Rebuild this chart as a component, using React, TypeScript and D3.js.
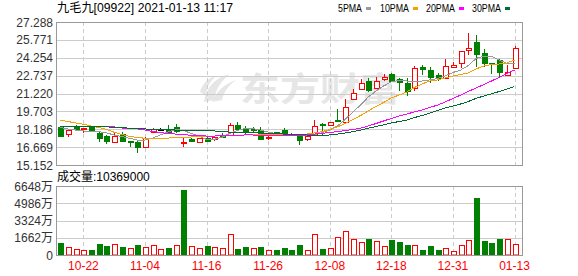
import React from 'react';
import * as d3 from 'd3';

const dates = [
  '10-19','10-20','10-21','10-22','10-23','10-27','10-28','10-29','10-30','11-02',
  '11-03','11-04','11-05','11-06','11-09','11-10','11-11','11-12','11-13','11-16',
  '11-17','11-18','11-19','11-20','11-23','11-24','11-25','11-26','11-27','11-30',
  '12-01','12-02','12-03','12-04','12-07','12-08','12-09','12-10','12-11','12-14',
  '12-15','12-16','12-17','12-18','12-21','12-22','12-23','12-24','12-28','12-29',
  '12-30','12-31','01-04','01-05','01-06','01-07','01-08','01-11','01-12','01-13'
];

const openP = [
  18.40,17.76,18.40,18.18,18.40,17.89,17.64,17.08,17.78,17.15,
  17.13,16.65,17.93,18.21,18.21,18.40,17.08,17.36,17.13,17.42,
  17.36,17.72,17.70,18.52,18.27,18.23,18.12,17.50,17.95,18.12,
  17.80,17.64,17.38,17.78,18.63,18.52,18.95,18.83,20.73,21.58,
  22.31,21.66,22.48,22.87,22.43,22.14,21.66,23.47,23.21,22.79,
  22.51,23.49,23.85,24.87,25.59,24.63,23.81,24.06,22.83,23.38
];
const highP = [
  18.46,18.14,18.55,18.29,18.46,17.95,17.70,17.84,17.98,17.15,
  17.19,17.50,18.29,18.29,18.55,18.59,17.47,17.47,17.45,17.50,
  17.53,17.84,18.69,18.83,18.46,18.40,18.35,17.84,17.98,18.27,
  17.84,17.70,17.64,18.97,18.69,18.83,19.88,20.73,21.58,22.43,
  22.51,22.60,22.87,22.93,22.51,22.51,23.57,23.60,23.44,22.96,
  24.16,23.92,24.85,26.33,26.22,24.97,23.83,24.16,23.60,25.23
];
const lowP = [
  17.55,17.55,18.17,17.84,17.98,17.13,16.93,17.06,17.13,16.65,
  16.20,16.63,17.90,18.16,17.90,17.87,16.70,17.08,17.10,17.11,
  17.21,17.50,17.68,18.12,17.70,17.98,17.27,17.27,17.80,17.70,
  17.68,16.89,17.15,17.76,17.70,18.50,18.83,18.80,20.70,21.55,
  21.37,21.60,22.26,22.22,21.46,21.01,21.46,22.79,22.09,22.31,
  22.48,23.36,23.36,24.49,23.43,23.49,22.87,22.65,22.80,23.33
];
const closeP = [
  17.64,18.12,18.21,18.27,18.06,17.42,17.21,17.64,17.21,17.13,
  16.65,17.42,18.21,18.21,17.95,18.06,17.11,17.19,17.42,17.19,
  17.50,17.55,18.52,18.23,17.93,18.12,17.33,17.55,17.84,17.84,
  17.72,17.27,17.61,18.46,18.55,18.80,18.89,20.05,21.29,22.09,
  21.52,22.31,22.65,22.28,22.22,21.46,23.41,23.30,22.58,22.51,
  23.53,23.64,24.83,25.08,24.55,23.78,23.70,23.07,23.07,25.08
];

const ma5 = [
  18.33,18.21,18.12,18.04,18.01,17.98,17.87,17.70,17.57,17.42,
  17.27,17.27,17.44,17.70,17.95,18.16,18.08,17.83,17.61,17.32,
  17.33,17.50,17.83,18.08,18.25,18.25,18.12,17.95,17.83,17.74,
  17.66,17.61,17.66,17.74,17.89,18.12,18.46,19.01,19.65,20.24,
  20.92,21.43,21.86,22.20,22.32,22.28,22.22,22.28,22.37,22.49,
  22.71,23.00,23.21,23.60,24.19,24.40,24.40,24.06,23.78,23.78
];
const ma10 = [
  18.97,18.84,18.72,18.61,18.46,18.33,18.18,17.93,17.74,17.57,
  17.49,17.42,17.42,17.44,17.44,17.47,17.49,17.53,17.55,17.57,
  17.61,17.66,17.67,17.67,17.70,17.70,17.70,17.70,17.70,17.70,
  17.72,17.76,17.78,17.87,17.98,18.16,18.38,18.67,19.01,19.35,
  19.74,20.12,20.46,20.84,21.09,21.35,21.73,22.03,22.28,22.37,
  22.54,22.71,22.83,22.96,23.30,23.55,23.68,23.72,23.81,24.06
];
const ma20 = [
  18.46,18.46,18.46,18.46,18.46,18.46,18.46,18.38,18.29,18.25,
  18.21,18.12,17.99,17.89,17.84,17.78,17.74,17.67,17.64,17.61,
  17.61,17.64,17.66,17.67,17.70,17.70,17.67,17.66,17.66,17.66,
  17.66,17.66,17.70,17.78,17.84,17.91,17.98,18.08,18.16,18.27,
  18.46,18.67,18.89,19.10,19.31,19.48,19.65,19.82,20.03,20.24,
  20.50,20.80,21.09,21.39,21.69,21.98,22.28,22.58,22.92,23.21
];
const ma30 = [
  18.39,18.39,18.39,18.39,18.39,18.39,18.39,18.35,18.33,18.27,
  18.25,18.21,18.18,18.16,18.15,18.12,18.12,18.12,18.12,18.10,
  18.04,17.98,17.95,17.89,17.89,17.87,17.87,17.84,17.81,17.78,
  17.78,17.76,17.70,17.66,17.66,17.70,17.78,17.87,17.98,18.12,
  18.27,18.42,18.55,18.72,18.84,18.97,19.18,19.35,19.56,19.78,
  19.99,20.16,20.33,20.54,20.80,21.01,21.18,21.39,21.60,21.81
];

// volume in 万 shares
const volume = [
  1156,742,549,453,482,1031,867,1031,771,646,
  963,771,935,578,674,963,6291,838,674,867,
  742,674,1994,578,771,674,771,482,482,674,
  500,963,482,1994,578,646,1705,2283,1513,1253,
  1542,1349,838,1445,1253,963,935,482,867,482,
  646,357,935,1445,5492,1349,1156,1542,1542,1037
];
// 1 = up day (red hollow), 0 = down day (green)
const volumeUp = [
  0,1,1,1,0,0,0,1,0,1,
  0,1,1,1,0,1,0,1,1,0,
  1,1,1,0,0,1,0,1,0,0,
  0,0,1,1,0,1,1,1,1,1,
  0,1,1,0,0,0,1,0,0,0,
  1,1,1,1,0,0,0,0,1,1
];

const priceTicks = [27.288, 25.771, 24.254, 22.737, 21.220, 19.703, 18.186, 16.669, 15.152];
const volumeTicks = [6648, 4986, 3324, 1662, 0];
const dateTicks = ['10-22','11-04','11-16','11-26','12-08','12-18','12-31','01-13'];

const titleText = '九毛九[09922] 2021-01-13 11:17';
const volumeTitle = '成交量:10369000';
const legendNames = ['5PMA', '10PMA', '20PMA', '30PMA'];
const maColors = ['#999999', '#f5a200', '#ff00ff', '#006b2e'];

const RED = '#ff0000';
const GREEN = '#008000';
const AXIS_FONT = '"Liberation Sans", Arial, "Noto Sans CJK SC", sans-serif';

export default function App() {
  const W = 578, H = 276;
  const left = 56, right = 522;
  const pTop = 22, pBot = 165;
  const vTop = 186, vBot = 255;

  const x = d3.scaleLinear().domain([0, dates.length - 1]).range([60.3, 514.5]);
  const y = d3.scaleLinear().domain([15.152, 27.288]).range([pBot, pTop]);
  const yv = d3.scaleLinear().domain([0, 6648]).range([vBot, vTop]);
  const crisp = (v: number) => Math.round(v) + 0.5;

  const maSeries = [ma5, ma10, ma20, ma30];
  const line = d3.line<number>().x((_, i) => x(i)).y(d => y(d));

  const legendX = [338, 380, 426, 472];
  const legendW = [24, 29, 29, 29];

  return (
    <svg width={W} height={H} style={{ position: 'absolute', left: 0, top: 0, background: '#fff' }}
      xmlns="http://www.w3.org/2000/svg">
      <rect x={0} y={0} width={W} height={H} fill="#fff" />
      {/* title */}
      <text x={57} y={11.5} fontSize={12} fontFamily={AXIS_FONT} fill="#000" textLength={176} lengthAdjust="spacingAndGlyphs">{titleText}</text>
      {/* legend */}
      {legendNames.map((n, k) => (
        <g key={n}>
          <text x={legendX[k]} y={11.5} fontSize={11} fontFamily={AXIS_FONT} fill="#000" textLength={legendW[k]} lengthAdjust="spacingAndGlyphs">{n}</text>
          <rect x={legendX[k] + legendW[k] + 4} y={7} width={5} height={3} fill={maColors[k]} />
        </g>
      ))}

      {/* watermark */}
      <g fill="#e6e6e6">
        <path d="M204,102 C206,88 214,78 230,74 C222,80 216,88 214,100 Z" />
        <path d="M212,102 C216,92 224,84 236,80 C228,86 224,92 222,100 Z" />
        <path d="M200,92 C202,84 208,78 216,76 C210,82 206,88 206,96 Z" />
      </g>
      <text x={240} y={101} fontSize={33} fontWeight="bold" fontFamily='"Noto Sans CJK SC", sans-serif' fill="#e6e6e6" textLength={160} lengthAdjust="spacingAndGlyphs">东方财富</text>

      {/* price grid */}
      {priceTicks.map(t => (
        <g key={'p' + t}>
          <line x1={left} x2={right} y1={crisp(y(t))} y2={crisp(y(t))} stroke="#cccccc" strokeWidth={1} />
          <text x={53} y={y(t) + 4.5} textAnchor="end" fontSize={12} fontFamily={AXIS_FONT} fill="#333">{t.toFixed(3)}</text>
        </g>
      ))}
      {/* volume grid */}
      {volumeTicks.map(t => (
        <g key={'v' + t}>
          <line x1={left} x2={right} y1={crisp(yv(t))} y2={crisp(yv(t))} stroke="#cccccc" strokeWidth={1} />
          <text x={53} y={yv(t) + 4.5} textAnchor="end" fontSize={12} fontFamily={AXIS_FONT} fill="#333">{t === 0 ? '0' : t + '万'}</text>
        </g>
      ))}
      {/* date grid + labels */}
      {dateTicks.map(d => {
        const i = dates.indexOf(d);
        const xx = crisp(x(i));
        return (
          <g key={d}>
            <line x1={xx} x2={xx} y1={pTop} y2={pBot} stroke="#cccccc" strokeDasharray="4,3" />
            <line x1={xx} x2={xx} y1={vTop} y2={vBot} stroke="#cccccc" strokeDasharray="4,3" />
            <text x={x(i)} y={270} textAnchor="middle" fontSize={12} fontFamily={AXIS_FONT} fill={RED}>{d}</text>
          </g>
        );
      })}

      {/* candles */}
      {dates.map((d, i) => {
        const cx = Math.round(x(i));
        const o = openP[i], c = closeP[i];
        const up = c > o;
        const flat = c === o;
        const col = flat ? '#000' : up ? RED : GREEN;
        const yTop = Math.round(y(Math.max(o, c)));
        const yBot = Math.round(y(Math.min(o, c)));
        const hgt = Math.max(1, yBot - yTop);
        return (
          <g key={'c' + d}>
            <line x1={cx + 0.5} x2={cx + 0.5} y1={Math.round(y(highP[i]))} y2={Math.round(y(lowP[i]))} stroke={col} />
            {up ? (
              hgt >= 2 ? <rect x={cx - 2 + 0.5} y={yTop + 0.5} width={5} height={hgt} fill="#fff" stroke={col} />
                : <rect x={cx - 2} y={yTop} width={6} height={2} fill={col} />
            ) : (
              <rect x={cx - 2} y={yTop} width={6} height={hgt + 1} fill={col} />
            )}
          </g>
        );
      })}

      {/* moving averages */}
      {maSeries.map((s, k) => (
        <path key={'ma' + k} d={line(s) || ''} fill="none" stroke={maColors[k]} strokeWidth={1} shapeRendering="crispEdges" />
      ))}

      {/* volume bars */}
      {volume.map((v, i) => {
        const cx = Math.round(x(i));
        const top = Math.round(yv(v));
        const up = volumeUp[i] === 1;
        return up ? (
          <rect key={'v' + i} x={cx - 2 + 0.5} y={top + 0.5} width={5} height={vBot - top - 0.5} fill="#fff" stroke={RED} />
        ) : (
          <rect key={'v' + i} x={cx - 2} y={top} width={6} height={vBot - top + 0.5} fill={GREEN} />
        );
      })}

      {/* borders */}
      <rect x={left + 0.5} y={pTop + 0.5} width={right - left} height={pBot - pTop} fill="none" stroke="#999" />
      <rect x={left + 0.5} y={vTop + 0.5} width={right - left} height={vBot - vTop} fill="none" stroke="#999" />

      <text x={57} y={181} fontSize={12} fontFamily={AXIS_FONT} fill="#000">{volumeTitle}</text>
    </svg>
  );
}
